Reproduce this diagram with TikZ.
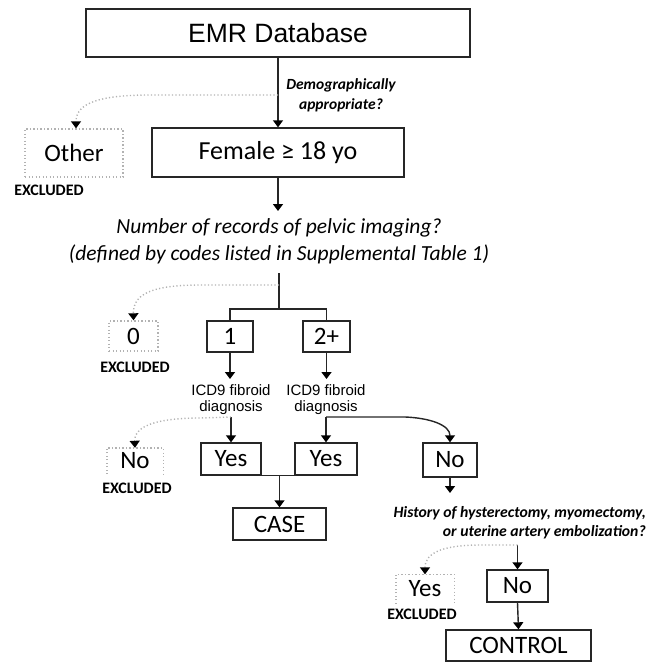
\documentclass[tikz,border=0pt]{standalone}
\usepackage{fontspec}
\setmainfont{Carlito}
\newfontfamily\arial{Liberation Sans}
\usetikzlibrary{arrows.meta}
\begin{document}
\begin{tikzpicture}[x=1pt,y=-1pt,
  sbox/.style={draw=black!85, line width=1.4pt, inner sep=0pt, font=\fontsize{25}{28}\selectfont},
  xbox/.style={draw=gray!60, line width=1.4pt, dash pattern=on 1.2pt off 2.3pt, inner sep=0pt, font=\fontsize{25}{28}\selectfont},
  xnode/.style={inner sep=0pt, font=\fontsize{25}{28}\selectfont},
  xside/.style={draw=gray!60, line width=1.4pt, dash pattern=on 1.2pt off 2.3pt},
  excl/.style={inner sep=0pt, font=\bfseries\fontsize{16}{17}\selectfont},
  icd/.style={inner sep=0pt, align=center, font=\arial\fontsize{15}{16}\selectfont},
  ln/.style={line width=1.4pt, draw=black!85},
  arr/.style={line width=1.4pt, draw=black!85, -{Triangle[width=10pt,length=7pt,black]}},
  darr/.style={draw=gray!60, line width=1.4pt, dash pattern=on 1.2pt off 2.3pt, -{Triangle[width=10pt,length=7pt,black]}},
  qtext/.style={inner sep=0pt, align=center, font=\bfseries\itshape\fontsize{15.5}{20}\selectfont}
]
\useasboundingbox (0,0) rectangle (658,662);

% top
\node[sbox, minimum width=384pt, minimum height=48pt, font=\arial\fontsize{26.5}{30}\selectfont] (emr) at (278,33) {EMR Database};
\node[sbox, minimum width=252pt, minimum height=49pt, font=\fontsize{26}{28}\selectfont] (female) at (278,152.5) {Female ≥ 18 yo};
\node[xbox, minimum width=98pt, minimum height=48pt, font=\fontsize{25}{28}\selectfont] (other) at (74,153) {Other};
\node[excl] (ex1) at (49,190) {EXCLUDED};
\node[qtext] (demo) at (341,95) {Demographically\\appropriate?};

\draw[arr] (emr.south) -- (female.north);
\coordinate (d1) at (278,95);
\draw[darr] (d1) -- (150,95) .. controls (100,95) and (76,103) .. (other.north -| 76,0);

% question
\node[inner sep=0pt, align=center, font=\itshape\fontsize{21.5}{27}\selectfont] (q1) at (279,241)
  {Number of records of pelvic imaging?\\(defined by codes listed in Supplemental Table 1)};
\draw[arr] (female.south) -- (278,211) coordinate (q1top);

% branch
\coordinate (br) at (279,273);
\coordinate (bj) at (279,309);
\node[sbox, minimum width=46pt, minimum height=31pt] (b1) at (230,336.5) {1};
\node[sbox, minimum width=47pt, minimum height=31pt] (b2) at (326.5,336.5) {2+};
\node[xbox, minimum width=49pt, minimum height=30pt] (zero) at (133.5,336) {0};
\node[excl] (ex2) at (135,367) {EXCLUDED};
\draw[ln] (br) -- (bj);
\draw[ln] (b1.north) |- (bj) -| (b2.north);
\coordinate (d2) at (279,285);
\draw[darr] (d2) -- (200,285) .. controls (150,285) and (133,295) .. (zero.north);

% ICD
\node[icd] (icd1) at (231,400) {ICD9 fibroid\\diagnosis};
\node[icd] (icd2) at (326,400) {ICD9 fibroid\\diagnosis};
\draw[arr] (b1.south) -- (230,379);
\draw[arr] (b2.south) -- (326.5,379);

\node[sbox, minimum width=60pt, minimum height=32pt] (yes1) at (231,459) {Yes};
\node[sbox, minimum width=62pt, minimum height=32pt] (yes2) at (326,459) {Yes};
\node[sbox, minimum width=54pt, minimum height=34pt] (no1) at (450,460) {No};
\node[xnode, minimum width=56pt, minimum height=26pt] (noex) at (135,461) {No};
\draw[xside] (noex.south west) -- (noex.north west) -- (noex.north east) -- (noex.south east);
\node[excl] (ex3) at (137,488) {EXCLUDED};

\coordinate (c1) at (231,417);
\coordinate (c2) at (326,417);
\draw[arr] (c1) -- (yes1.north);
\draw[arr] (c2) -- (yes2.north);
\draw[darr] (c1) -- (200,418) .. controls (160,418) and (134,425) .. (noex.north);
\draw[arr] (c2) -- (405,417) .. controls (430,418) and (450,425) .. (no1.north);

% case
\node[sbox, minimum width=93pt, minimum height=32pt] (case) at (279.5,524) {CASE};
\draw[ln] (yes1.south east) -- (yes2.south west);
\draw[arr] (279.5,475) -- (case.north);

% history
\node[qtext, align=right, anchor=east, font=\bfseries\itshape\fontsize{15.7}{19}\selectfont] (hist) at (646,522.5)
  {History of hysterectomy, myomectomy,\\or uterine artery embolization?};
\draw[arr] (no1.south) -- (450,493);

\coordinate (h1) at (517.5,545);
\node[sbox, minimum width=61pt, minimum height=32pt] (no2) at (517.5,586) {No};
\node[xnode, minimum width=58pt, minimum height=29pt] (yesex) at (425,589) {Yes};
\draw[xside] (yesex.south west) -- (yesex.north west) -- (yesex.north east) -- (yesex.south east);
\node[excl] (ex4) at (422,614) {EXCLUDED};
\draw[arr] (h1) -- (no2.north);
\draw[darr] (h1) -- (480,545) .. controls (445,545) and (425,552) .. (yesex.north);

\node[sbox, minimum width=145pt, minimum height=31pt] (control) at (518.5,645.5) {CONTROL};
\draw[arr] (no2.south) -- (control.north);
\end{tikzpicture}
\end{document}
